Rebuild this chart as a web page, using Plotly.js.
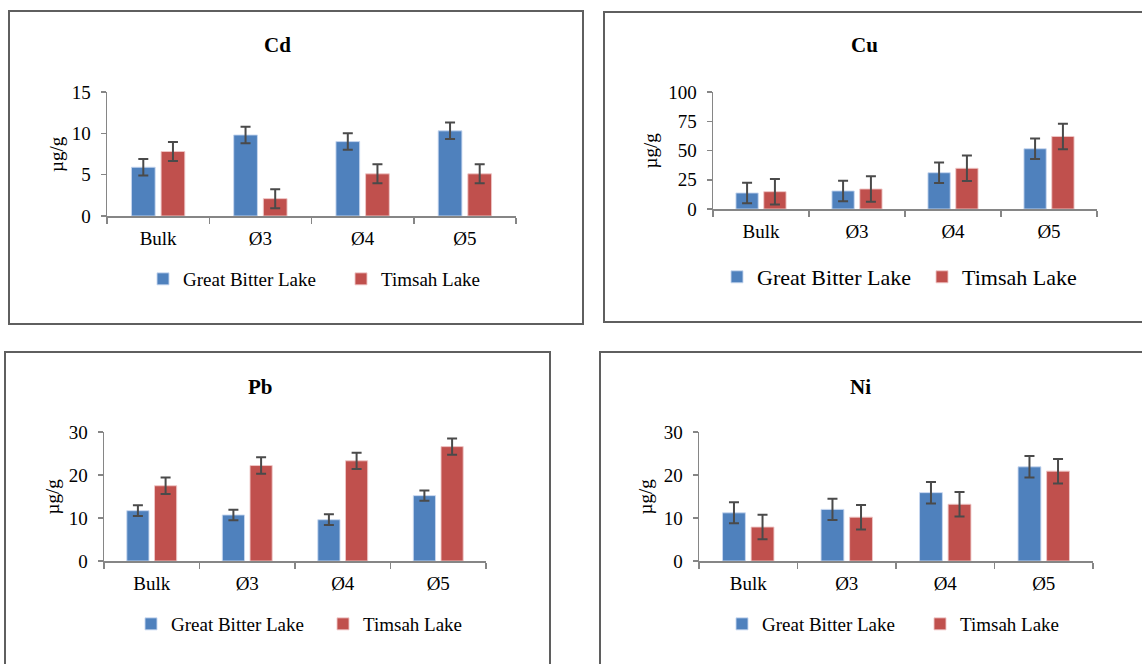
<!DOCTYPE html>
<html>
<head>
<meta charset="utf-8">
<script src="https://cdn.plot.ly/plotly-3.0.1.min.js"></script>
<style>html,body{margin:0;padding:0;background:#fff}#chart{width:1142px;height:664px}</style>
</head>
<body>
<div id="chart"></div>
<script>
// ---- data ----
const categories = ['Bulk', 'Ø3', 'Ø4', 'Ø5'];
const seriesNames = ['Great Bitter Lake', 'Timsah Lake'];

const cdGreatBitter = [5.9, 9.8, 9.0, 10.3];
const cdGreatBitterErr = [1.0, 1.0, 1.0, 1.0];
const cdTimsah = [7.8, 2.1, 5.1, 5.1];
const cdTimsahErr = [1.15, 1.15, 1.15, 1.15];

const cuGreatBitter = [13.7, 15.4, 31.0, 51.5];
const cuGreatBitterErr = [8.8, 8.8, 8.8, 8.8];
const cuTimsah = [14.8, 17.1, 34.8, 62.0];
const cuTimsahErr = [10.9, 10.9, 10.9, 10.9];

const pbGreatBitter = [11.7, 10.7, 9.6, 15.2];
const pbGreatBitterErr = [1.25, 1.2, 1.25, 1.2];
const pbTimsah = [17.5, 22.2, 23.3, 26.6];
const pbTimsahErr = [1.9, 1.9, 1.9, 1.9];

const niGreatBitter = [11.2, 12.0, 15.9, 21.9];
const niGreatBitterErr = [2.45, 2.45, 2.5, 2.5];
const niTimsah = [7.9, 10.2, 13.2, 20.9];
const niTimsahErr = [2.85, 2.85, 2.85, 2.85];

const panelTitles = ['Cd', 'Cu', 'Pb', 'Ni'];
const yUnit = 'µg/g';

// ---- layout helpers (pixel -> paper) ----
const W = 1142, H = 664;
const px = v => v / W;
const py = v => 1 - v / H;

const BLUE = '#4F81BD', RED = '#C0504D';
const FONT = 'Liberation Serif';
const AXC = '#868686';

const panels = [
  {gb: cdGreatBitter, gbe: cdGreatBitterErr, tm: cdTimsah, tme: cdTimsahErr, yr: [0, 15], dt: 5,
   x: [107, 516], y: [216, 92], title: [277, 45], ytitle: 56, legY: 279, leg: [160, 358], legFont: 19},
  {gb: cuGreatBitter, gbe: cuGreatBitterErr, tm: cuTimsah, tme: cuTimsahErr, yr: [0, 100], dt: 25,
   x: [713, 1097], y: [209, 92], title: [864, 45], ytitle: 650, legY: 277, leg: [734, 939], legFont: 22},
  {gb: pbGreatBitter, gbe: pbGreatBitterErr, tm: pbTimsah, tme: pbTimsahErr, yr: [0, 30], dt: 10,
   x: [104, 486], y: [561, 432], title: [260, 387], ytitle: 52, legY: 624, leg: [148, 340], legFont: 19},
  {gb: niGreatBitter, gbe: niGreatBitterErr, tm: niTimsah, tme: niTimsahErr, yr: [0, 30], dt: 10,
   x: [699, 1093], y: [561, 432], title: [860, 387], ytitle: 645, legY: 624, leg: [739, 937], legFont: 19}
];

const traces = [];
const layout = {
  width: W, height: H,
  margin: {l: 0, r: 0, t: 0, b: 0},
  paper_bgcolor: '#fff', plot_bgcolor: '#fff',
  font: {family: FONT, size: 19, color: '#000'},
  barmode: 'group', bargap: 0.42, bargroupgap: 0.2,
  showlegend: true,
  annotations: [], shapes: []
};

// panel border boxes
const boxes = [[9, 11, 583, 324], [604, 12, 1160, 322], [5, 352, 550, 690], [600, 352, 1160, 690]];
boxes.forEach(b => layout.shapes.push({type: 'rect', xref: 'paper', yref: 'paper',
  x0: px(b[0]), x1: px(b[2]), y0: py(b[1]), y1: py(b[3]),
  line: {color: '#5f5f5f', width: 2}, fillcolor: 'rgba(0,0,0,0)', layer: 'below'}));

let legIdx = 1;
panels.forEach((p, i) => {
  const n = i + 1;
  const xa = 'x' + (n === 1 ? '' : n), ya = 'y' + (n === 1 ? '' : n);
  const xk = 'xaxis' + (n === 1 ? '' : n), yk = 'yaxis' + (n === 1 ? '' : n);
  const series = [[p.gb, p.gbe, BLUE, 'rgba(200,215,240,0.9)'], [p.tm, p.tme, RED, 'rgba(240,200,200,0.9)']];
  series.forEach((s, k) => {
    const lg = 'legend' + (legIdx === 1 ? '' : legIdx);
    traces.push({
      type: 'bar', x: categories, y: s[0], name: seriesNames[k],
      xaxis: xa, yaxis: ya, legend: lg,
      marker: {color: s[2], line: {color: s[3], width: 1}},
      error_y: {type: 'data', array: s[1], visible: true, color: '#4a4a4a', thickness: 2, width: 5},
      hoverinfo: 'x+y+name'
    });
    layout[lg] = {
      x: px(p.leg[k] - 17), y: py(p.legY), xanchor: 'left', yanchor: 'middle',
      orientation: 'h', bgcolor: 'rgba(0,0,0,0)', borderwidth: 0,
      font: {family: FONT, size: p.legFont, color: '#000'}
    };
    legIdx++;
  });
  layout[xk] = {
    domain: [px(p.x[0]), px(p.x[1])], anchor: ya,
    showline: true, linecolor: AXC, linewidth: 1.5,
    ticks: 'outside', tickson: 'boundaries', ticklen: 6, tickcolor: AXC, tickwidth: 1.5,
    ticklabelstandoff: 5,
    tickfont: {family: FONT, size: 19, color: '#000'},
    showgrid: false, zeroline: false, fixedrange: true
  };
  layout[yk] = {
    domain: [py(p.y[0]), py(p.y[1])], anchor: xa,
    range: p.yr, dtick: p.dt, tick0: 0,
    showline: true, linecolor: AXC, linewidth: 1.5,
    ticks: 'outside', ticklen: 5, tickcolor: AXC, tickwidth: 1.5,
    ticklabelstandoff: 6,
    tickfont: {family: FONT, size: 19, color: '#000'},
    showgrid: false, zeroline: false, fixedrange: true
  };
  layout.annotations.push({
    text: '<b>' + panelTitles[i] + '</b>', xref: 'paper', yref: 'paper',
    x: px(p.title[0]), y: py(p.title[1]), xanchor: 'center', yanchor: 'middle',
    showarrow: false, font: {family: FONT, size: 21, color: '#000'}
  });
  layout.annotations.push({
    text: yUnit, xref: 'paper', yref: 'paper', textangle: -90,
    x: px(p.ytitle), y: py((p.y[0] + p.y[1]) / 2), xanchor: 'center', yanchor: 'middle',
    showarrow: false, font: {family: FONT, size: 19, color: '#000'}
  });
});

Plotly.newPlot('chart', traces, layout, {displayModeBar: false, staticPlot: true});
</script>
</body>
</html>
